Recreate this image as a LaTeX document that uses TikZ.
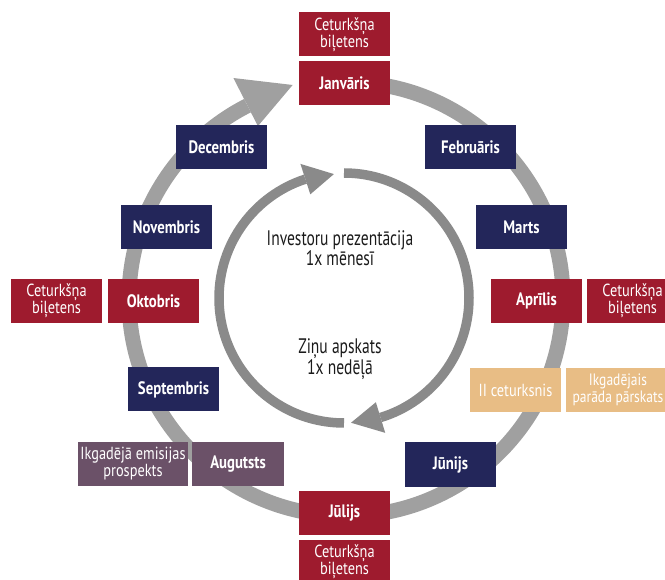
\documentclass[tikz,border=0pt]{standalone}
\usepackage{fontspec}
\setmainfont{PT Sans}[FakeStretch=0.82]
\newfontfamily\midfont{PT Sans}[FakeStretch=0.74]
\usetikzlibrary{calc}
\definecolor{cred}{RGB}{158,27,46}
\definecolor{cnavy}{RGB}{35,38,90}
\definecolor{ctan}{RGB}{232,189,133}
\definecolor{cmauve}{RGB}{107,81,104}
\definecolor{couter}{RGB}{160,160,160}
\definecolor{cinner}{RGB}{138,138,138}
\definecolor{ctext}{RGB}{26,26,26}
\begin{document}
\begin{tikzpicture}[x=1pt,y=1pt,
  box/.style={minimum width=91pt,minimum height=44pt,inner sep=0pt,align=center,text=white},
  mon/.style={box,font=\fontsize{18}{17}\selectfont\bfseries},
  note/.style={box,font=\fontsize{17.5}{17}\selectfont},
  midtext/.style={align=center,text=ctext,font=\midfont\fontsize{21}{20}\selectfont},
  outerring/.style={draw=couter,line width=15pt},
  innerring/.style={draw=cinner,line width=9.5pt}]
\useasboundingbox (0,-580) rectangle (665,0);
\clip (0,-580) rectangle (665,0);
% outer ring
\coordinate (O) at (346,-299);
\path[outerring] ($(O)+(85:217)$) arc[start angle=85,end angle=-243,radius=217];
\coordinate (ob) at ($(O)+(117:221)$);
\fill[couter] ($(O)+(117:248)$) -- ($(ob)+(20:50)$) -- ($(O)+(117:194)$) -- cycle;
% inner ring
\coordinate (I) at (344,-298);
\path[innerring] ($(I)+(90:125)$) arc[start angle=90,end angle=-73,radius=125];
\coordinate (ib1) at ($(I)+(-73:125)$);
\fill[cinner] ($(I)+(-73:141)$) -- ($(ib1)+(190:30)$) -- ($(I)+(-73:109)$) -- cycle;
\path[innerring] ($(I)+(270:125)$) arc[start angle=270,end angle=108,radius=125];
\coordinate (ib2) at ($(I)+(108:125)$);
\fill[cinner] ($(I)+(108:141)$) -- ($(ib2)+(10:29)$) -- ($(I)+(108:109)$) -- cycle;
% boxes
\node[note,fill=cred] (cq1) at (344.5,-34.5) {Ceturkšņa\\biļetens};
\node[mon,fill=cred] (jan) at (344.5,-83) {Janvāris};
\node[mon,fill=cnavy] (feb) at (470.5,-147) {Februāris};
\node[mon,fill=cnavy] (mar) at (521.5,-227.5) {Marts};
\node[mon,fill=cred] (apr) at (536.5,-301) {Aprīlis};
\node[note,fill=cred] (cq2) at (632.5,-301) {Ceturkšņa\\biļetens};
\node[note,fill=ctan] (q2) at (515.5,-390) {II ceturksnis};
\node[note,fill=ctan,minimum width=104pt,font=\fontsize{16.5}{17}\selectfont] (debt) at (618,-390) {Ikgadējais\\parāda pārskats};
\node[mon,fill=cnavy] (jun) at (450.5,-464.5) {Jūnijs};
\node[mon,fill=cred] (jul) at (344.5,-512.5) {Jūlijs};
\node[note,fill=cred] (cq3) at (344.5,-562) {Ceturkšņa\\biļetens};
\node[mon,fill=cmauve,minimum width=92pt] (aug) at (238,-464) {Augutsts};
\node[note,fill=cmauve,minimum width=110pt] (pros) at (133,-464) {Ikgadējā emisijas\\prospekts};
\node[mon,fill=cnavy] (sep) at (173.5,-389.5) {Septembris};
\node[mon,fill=cred] (okt) at (153.5,-301) {Oktobris};
\node[note,fill=cred] (cq4) at (56.5,-301) {Ceturkšņa\\biļetens};
\node[mon,fill=cnavy] (nov) at (166.5,-227.5) {Novembris};
\node[mon,fill=cnavy] (dec) at (221.5,-147) {Decembris};
% centre texts
\node[midtext] (pres) at (340,-248) {Investoru prezentācija\\1x mēnesī};
\node[midtext] (news) at (340,-359) {Ziņu apskats\\1x nedēļā};
\end{tikzpicture}
\end{document}
